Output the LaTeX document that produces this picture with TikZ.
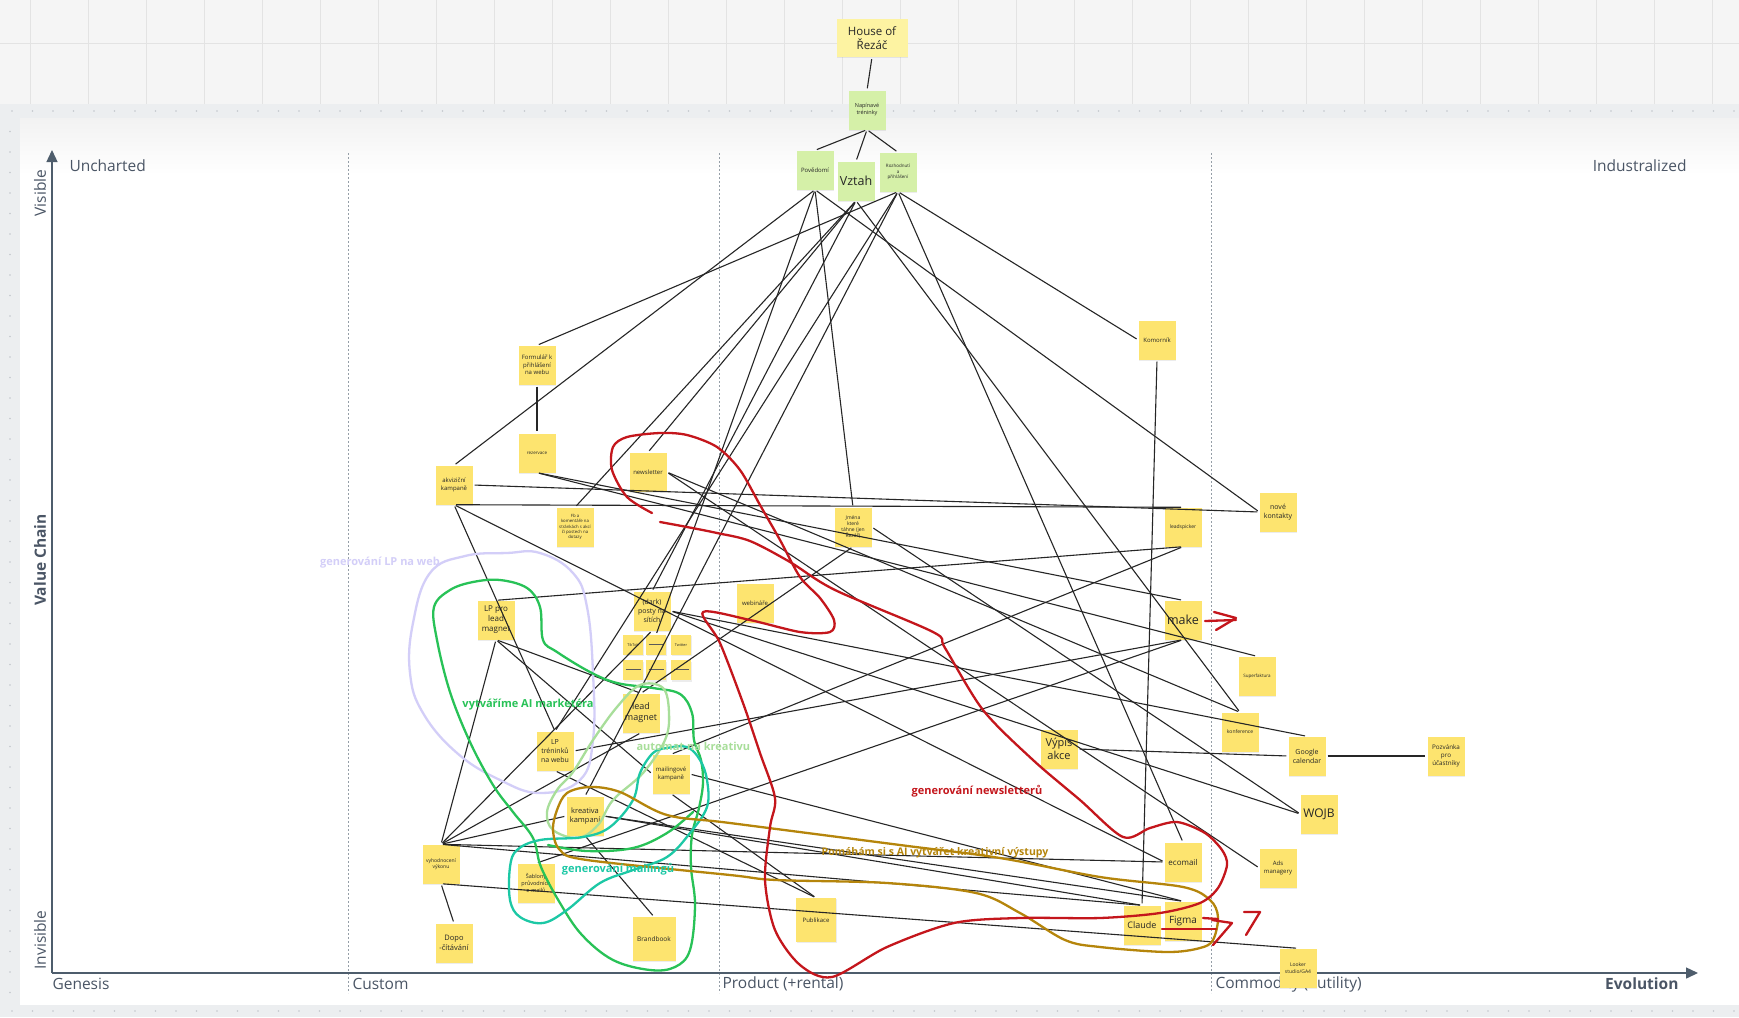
\documentclass[tikz,border=0pt]{standalone}
\usepackage{fontspec}
\setmainfont{Open Sans}
\usetikzlibrary{arrows.meta,positioning,shadows}

\definecolor{stickyY}{HTML}{FDE46F}
\definecolor{stickyL}{HTML}{FDF3A2}
\definecolor{stickyG}{HTML}{D5F0A8}
\definecolor{axisC}{HTML}{4E5D6C}
\definecolor{labelC}{HTML}{4A5565}
\definecolor{topC}{HTML}{F5F5F5}
\definecolor{gridC}{HTML}{E3E3E3}
\definecolor{bandC}{HTML}{ECEEF0}
\definecolor{dotC}{HTML}{C3C7CC}
\definecolor{redC}{HTML}{C4161C}
\definecolor{brownC}{HTML}{B5850B}
\definecolor{greenC}{HTML}{28C257}
\definecolor{lgreenC}{HTML}{A8DE9A}
\definecolor{tealC}{HTML}{1CC8A5}
\definecolor{lavC}{HTML}{D3CEF8}

\begin{document}
\begin{tikzpicture}[
    x=1pt, y=-1pt,
    sticky/.style={
        fill=stickyY,
        minimum width=37pt,
        minimum height=39pt,
        inner sep=1pt,
        align=center,
        text=black!85,
        drop shadow={shadow xshift=0.7pt, shadow yshift=-1.2pt, opacity=0.15}
    },
    cloud/.style={
        sticky,
        fill=stickyG
    },
    chip/.style={
        sticky,
        minimum width=20pt,
        minimum height=20pt
    },
    txs/.style={font=\fontsize{4.5}{5.6}\selectfont},
    tsm/.style={font=\fontsize{6}{7.5}\selectfont},
    tmd/.style={font=\fontsize{7.5}{9.5}\selectfont},
    tlg/.style={font=\fontsize{9}{11}\selectfont},
    txl/.style={font=\fontsize{12.5}{15}\selectfont},
    link/.style={
        draw=black!85,
        line width=1.1pt,
        shorten <=2pt,
        shorten >=2pt
    },
    axis/.style={
        draw=axisC,
        line width=1.4pt,
        -{Triangle[length=12pt,width=11pt]}
    },
    phase/.style={
        draw=axisC!60,
        line width=0.7pt,
        dash pattern=on 2pt off 2pt
    },
    stage/.style={
        text=labelC,
        font=\fontsize{15.5}{18}\selectfont
    },
    scribble/.style={
        line width=2.3pt,
        line cap=round,
        line join=round
    },
    tag/.style={
        font=\bfseries\fontsize{11}{13}\selectfont
    }
]

\useasboundingbox (0,0) rectangle (1739,1017);

% board background
\fill[topC] (0,0) rectangle (1739,104);
\foreach \x in {30,88,...,1739} {
    \draw[gridC, line width=0.8pt] (\x,0) -- (\x,104);
}
\draw[gridC, line width=0.8pt] (0,43) -- (1739,43);
\fill[bandC] (0,104) rectangle (1739,1017);
\foreach \x in {12,32.5,...,1739} {
    \fill[dotC] (\x,111) circle (0.8pt);
    \fill[dotC] (\x,1011) circle (0.8pt);
}
\foreach \y in {131.5,152,...,1000} {
    \fill[dotC] (10,\y) circle (0.8pt);
}
\fill[white] (20,118) rectangle (1739,1005);
\shade[top color=black!5, bottom color=white] (20,118) rectangle (1739,175);

% axes and stages
\draw[phase] (348,153) -- (348,993);
\draw[phase] (719,153) -- (719,993);
\draw[phase] (1211,153) -- (1211,993);
\draw[axis] (52,973) -- (52,150);
\draw[axis] (52,973) -- (1698,973);

\node[stage, anchor=west] (uncharted) at (66,166) {Uncharted};
\node[stage, anchor=east] (industr) at (1690,166) {Industralized};
\node[stage, rotate=90] (visible) at (40,193) {Visible};
\node[stage, rotate=90, font=\bfseries\fontsize{15.5}{18}\selectfont] (chain) at (40,560) {Value Chain};
\node[stage, rotate=90] (invisible) at (40,940) {Invisible};
\node[stage, anchor=west] (genesis) at (49,984) {Genesis};
\node[stage, anchor=west] (custom) at (349,984) {Custom};
\node[stage, anchor=west] (product) at (719,984) {Product (+rental)};
\node[stage, anchor=west] (commodity) at (1212,984) {Commodity (+utility)};
\node[stage, anchor=east, font=\bfseries\fontsize{15.5}{18}\selectfont] (evolution) at (1682,984) {Evolution};

% stickies
\node[sticky, fill=stickyL, minimum width=71pt, minimum height=38pt,
      font=\fontsize{11.5}{14}\selectfont] (house) at (872,38) {House of\\Řezáč};
\node[cloud, font=\fontsize{5.5}{7}\selectfont] (napinave) at (867,110) {Napínavé\\tréninky};
\node[cloud, tsm] (povedomi) at (815,170) {Povědomí};
\node[cloud, txl] (vztah) at (856,181) {Vztah};
\node[cloud, txs] (rozhodnuti) at (898,172) {Rozhodnutí\\a\\přihlášení};

\node[sticky, tsm] (formular) at (537,365) {Formulář k\\přihlášení\\na webu};
\node[sticky, txs] (rezervace) at (537,453) {rezervace};
\node[sticky, tsm] (newsletter) at (648,472) {newsletter};
\node[sticky, tsm] (akvizicni) at (454,485) {akviziční\\kampaně};
\node[sticky, font=\fontsize{4.3}{5.4}\selectfont] (fb) at (575,527) {Fb a\\komentáře na\\stránkách s akcí\\či postech na\\dotazy};
\node[sticky, font=\fontsize{5}{6.3}\selectfont] (jmena) at (853,527) {Jména\\které\\táhne (jen\\Řezáč)};
\node[sticky, tsm] (komornik) at (1157,340) {Komorník};
\node[sticky, font=\fontsize{5}{6.3}\selectfont] (leadspicker) at (1183,527) {leadspicker};
\node[sticky, font=\fontsize{7}{9}\selectfont] (novekontakty) at (1278,512) {nové\\kontakty};
\node[sticky, font=\fontsize{8}{10}\selectfont] (lpprolead) at (496,620) {LP pro\\lead\\magnet};
\node[sticky, font=\fontsize{7}{9}\selectfont] (posty) at (652,611) {(dark)\\posty na\\sítích};
\node[chip, font=\fontsize{3.8}{4.5}\selectfont] (tiktok) at (633,645) {TikTok};
\node[chip] (chipb) at (656,645) {\color{black!65}\rule[1.5pt]{15pt}{0.8pt}};
\node[chip, font=\fontsize{3.8}{4.5}\selectfont] (twitter) at (681,645) {Twitter};
\node[chip, below=5pt of tiktok] (chipd) {\color{black!65}\rule[1.5pt]{15pt}{0.8pt}};
\node[chip, below=5pt of chipb] (chipe) {\color{black!65}\rule[1.5pt]{15pt}{0.8pt}};
\node[chip, below=5pt of twitter] (chipf) {\color{black!65}\rule[1.5pt]{15pt}{0.8pt}};
\node[sticky, tsm] (webinare) at (755,603) {webináře};
\node[sticky, txl] (make) at (1183,620) {make};
\node[sticky, txs] (superfaktura) at (1257,676) {Superfaktura};
\node[sticky, tlg] (leadmagnet) at (641,713) {lead\\magnet};
\node[sticky, font=\fontsize{5}{6.3}\selectfont] (konference) at (1240,732) {konference};
\node[sticky, font=\fontsize{11}{13.5}\selectfont] (vypis) at (1059,749) {Výpis\\akce};
\node[sticky, font=\fontsize{7}{9}\selectfont] (googlecal) at (1307,756) {Google\\calendar};
\node[sticky, font=\fontsize{6.3}{8}\selectfont] (pozvanka) at (1446,756) {Pozvánka\\pro\\účastníky};
\node[sticky, font=\fontsize{7}{9}\selectfont] (lptreninku) at (555,751) {LP\\tréninků\\na webu};
\node[sticky, tsm] (mailingove) at (671,774) {mailingové\\kampaně};
\node[sticky, font=\fontsize{12}{14}\selectfont] (wojb) at (1319,814) {WOJB};
\node[sticky, tmd] (kreativa) at (585,816) {kreativa\\kampaní};
\node[sticky, font=\fontsize{5}{6.3}\selectfont] (vyhodnoceni) at (441,864) {vyhodnocení\\výkonu};
\node[sticky, font=\fontsize{8}{10}\selectfont] (ecomail) at (1183,862) {ecomail};
\node[sticky, tsm] (ads) at (1278,868) {Ads\\managery};
\node[sticky, font=\fontsize{5.5}{7}\selectfont] (sablony) at (536,883) {Šablony\\průvodních\\e-mailů};
\node[sticky, tsm, minimum width=40pt, minimum height=44pt] (publikace) at (816,920) {Publikace};
\node[sticky, tlg] (claude) at (1142,925) {Claude};
\node[sticky, font=\fontsize{10}{12}\selectfont] (figma) at (1183,921) {Figma};
\node[sticky, font=\fontsize{6.5}{8}\selectfont, minimum width=43pt, minimum height=44pt] (brandbook) at (654,939) {Brandbook};
\node[sticky, font=\fontsize{7.5}{10}\selectfont] (dopo) at (454,943) {Dopo\\-čítávání};
\node[sticky, font=\fontsize{5}{6.3}\selectfont] (looker) at (1298,968) {Looker\\studio/GA4};

% value chain links
\draw[link] (house.south) -- (napinave.north);
\draw[link] (napinave.south) -- (povedomi.north);
\draw[link] (napinave.south) -- (vztah.north);
\draw[link] (napinave.south) -- (rozhodnuti.north);

\draw[link] (povedomi.south) -- (akvizicni.north);
\draw[link] (povedomi.south) -- (jmena.north);
\draw[link] (povedomi.south) -- (novekontakty.west);
\draw[link] (povedomi.south) -- (chipb.north);

\draw[link] (vztah.south) -- (fb.north);
\draw[link] (vztah.south) -- (newsletter.north);
\draw[link] (vztah.south) -- (posty.north);
\draw[link] (vztah.south) -- (konference.north);

\draw[link] (rozhodnuti.south) -- (formular.north);
\draw[link] (rozhodnuti.south) -- (komornik.west);
\draw[link] (rozhodnuti.south) -- (ecomail.north);
\draw[link] (rozhodnuti.south) -- (lptreninku.north);
\draw[link] (rozhodnuti.south) -- (kreativa.north);

\draw[link] (formular.south) -- (rezervace.north);
\draw[link] (akvizicni.east) -- (novekontakty.west);
\draw[link] (akvizicni.south) -- (leadspicker.north);
\draw[link] (akvizicni.south) -- (lptreninku.north);
\draw[link] (akvizicni.south) -- (ecomail.west);
\draw[link] (rezervace.south) -- (make.north);
\draw[link] (rezervace.south) -- (superfaktura.north);
\draw[link] (newsletter.east) -- (konference.north);
\draw[link] (newsletter.east) -- (ads.west);
\draw[link] (jmena.south) -- (leadmagnet.north);
\draw[link] (jmena.east) -- (wojb.west);
\draw[link] (posty.east) -- (wojb.west);
\draw[link] (posty.east) -- (googlecal.north);
\draw[link] (lpprolead.north) -- (leadspicker.south);
\draw[link] (lpprolead.south) -- (leadmagnet.north);
\draw[link] (lpprolead.south) -- (mailingove.west);
\draw[link] (komornik.south) -- (claude.north);
\draw[link] (vypis.east) -- (googlecal.west);
\draw[link] (googlecal.east) -- (pozvanka.west);

\draw[link] (vyhodnoceni.north) -- (lpprolead.south);
\draw[link] (vyhodnoceni.north) -- (posty.south);
\draw[link] (vyhodnoceni.north) -- (leadmagnet.south);
\draw[link] (vyhodnoceni.north) -- (kreativa.west);
\draw[link] (vyhodnoceni.north) -- (claude.north);
\draw[link] (vyhodnoceni.north) -- (ecomail.west);
\draw[link] (vyhodnoceni.south) -- (dopo.north);
\draw[link] (vyhodnoceni.south) -- (looker.north);

\draw[link] (lptreninku.east) -- (make.south);
\draw[link] (lptreninku.south) -- (publikace.north);
\draw[link] (sablony.north) -- (make.south);
\draw[link] (mailingove.north) -- (leadspicker.south);
\draw[link] (mailingove.east) -- (figma.north);
\draw[link] (mailingove.south) -- (publikace.north);
\draw[link] (kreativa.south) -- (brandbook.north);
\draw[link] (kreativa.east) -- (claude.north);
\draw[link] (kreativa.east) -- (figma.north);

% hand-drawn groups
\draw[scribble, draw=lavC] plot[smooth cycle, tension=0.7] coordinates {
    (507,553) (540,553) (573,573) (587,607) (593,673) (593,740) (580,780)
    (540,793) (500,780) (457,753) (423,713) (410,673) (413,623) (430,573) (465,556)};
\draw[scribble, draw=greenC] plot[smooth cycle, tension=0.6] coordinates {
    (500,580) (527,588) (540,607) (543,640) (557,652) (590,672) (617,683)
    (653,688) (680,694) (692,713) (694,740) (701,760) (703,783) (699,808)
    (692,835) (691,867) (695,905) (690,950) (675,967) (650,970) (613,960)
    (582,935) (560,903) (541,867) (533,838) (513,812) (493,785) (470,742)
    (450,692) (437,640) (434,607) (450,590) (473,582)};
\draw[scribble, draw=greenC] plot[smooth, tension=0.6] coordinates {
    (548,845) (587,851) (633,848) (667,833) (693,812)};
\draw[scribble, draw=lgreenC] plot[smooth cycle, tension=0.6] coordinates {
    (553,830) (547,812) (557,790) (573,772) (593,740) (617,707) (640,685)
    (663,688) (669,713) (665,740) (643,773) (613,800) (598,825) (578,838)};
\draw[scribble, draw=tealC] plot[smooth cycle, tension=0.6] coordinates {
    (640,773) (653,753) (667,748) (687,747) (700,760) (707,780) (707,807)
    (690,833) (667,857) (633,870) (600,883) (567,910) (543,923) (520,917)
    (510,900) (510,867) (517,850) (540,840) (583,837) (610,827) (633,800)};
\draw[scribble, draw=brownC] plot[smooth cycle, tension=0.55] coordinates {
    (557,810) (567,793) (590,787) (620,792) (667,815) (730,823) (900,845)
    (1000,858) (1100,877) (1183,887) (1210,900) (1218,917) (1213,940)
    (1200,948) (1167,952) (1100,947) (1065,940) (1020,913) (976,893)
    (887,883) (776,880) (730,875) (587,860) (560,850) (553,830)};
\draw[scribble, draw=redC] plot[smooth, tension=0.5] coordinates {
    (660,522) (687,527) (717,533) (750,541) (790,562) (835,590) (933,632)
    (945,648) (983,710) (1033,760) (1080,800) (1123,837) (1150,828)
    (1177,822) (1205,833) (1222,850) (1227,865) (1218,888) (1200,903)
    (1160,913) (1100,918) (1020,918) (954,923) (887,947) (832,977)
    (800,965) (775,930) (765,880) (770,827) (775,798) (760,753) (743,703)
    (720,643) (703,612) (750,620) (800,632) (830,632) (834,620) (820,598)
    (800,577) (780,540) (760,505) (740,470) (717,447) (687,435) (660,433)
    (627,437) (613,447) (612,470) (627,497) (652,513)};

% red arrows
\draw[scribble, draw=redC] (1205,621) -- (1236,620);
\draw[scribble, draw=redC] (1214,612) -- (1236,618) -- (1216,630);
\draw[scribble, draw=redC] (1162,929) -- (1216,929);
\draw[scribble, draw=redC] (1203,918) -- (1218,919);
\draw[scribble, draw=redC] (1212,920) -- (1232,923) -- (1213,945);
\draw[scribble, draw=redC] (1244,912) -- (1260,912) -- (1246,935);

% group labels
\node[tag, text=lavC] (tlp) at (380,563) {generování LP na web};
\node[tag, text=greenC] (tmarketer) at (528,705) {vytváříme AI marketéra};
\node[tag, text=lgreenC, anchor=west] (tauto) at (633,746) {automat na kreativu};
\node[tag, text=tealC] (tmailing) at (618,869) {generování mailingů};
\node[tag, text=redC] (tnews) at (977,791) {generování newsletterů};
\node[tag, text=brownC, font=\bfseries\fontsize{10.5}{13}\selectfont] (tcreative) at (935,853) {Pomáhám si s AI vytvářet kreativní výstupy};

\end{tikzpicture}
\end{document}
